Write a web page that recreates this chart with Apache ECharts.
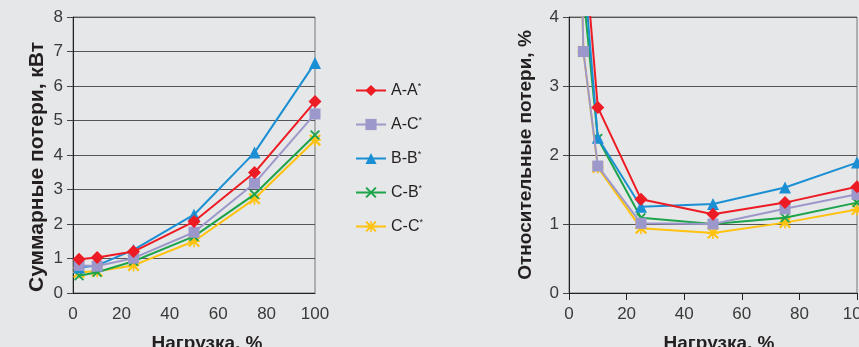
<!DOCTYPE html>
<html>
<head>
<meta charset="utf-8">
<script src="https://cdn.jsdelivr.net/npm/echarts@6/dist/echarts.min.js"></script>
<style>
  html, body { margin: 0; padding: 0; background: #e6e7e8; }
  #chart { width: 859px; height: 347px; }
</style>
</head>
<body>
<div id="chart"></div>
<script>
// load, %
const loadTotal = [2.5, 10, 25, 50, 75, 100]
const loadRel = [2.5, 5, 10, 25, 50, 75, 100]

const names = ['A-A*', 'A-C*', 'B-B*', 'C-B*', 'C-C*']

// total losses, kW
const totalAA = [0.98, 1.03, 1.2, 2.07, 3.49, 5.55]
const totalAC = [0.8, 0.78, 1.01, 1.76, 3.18, 5.19]
const totalBB = [0.74, 0.8, 1.25, 2.27, 4.07, 6.67]
const totalCB = [0.5, 0.6, 0.92, 1.64, 2.86, 4.58]
const totalCC = [0.6, 0.63, 0.8, 1.5, 2.73, 4.43]

// relative losses, % (first points lie above the axis top)
const relAA = [10, 5.2, 2.69, 1.36, 1.14, 1.31, 1.54]
const relAC = [8, 3.5, 1.84, 1.01, 1.0, 1.22, 1.43]
const relBB = [9, 4.75, 2.25, 1.25, 1.29, 1.53, 1.89]
const relCB = [8, 4.34, 2.24, 1.09, 1.0, 1.09, 1.31]
const relCC = [8, 3.5, 1.82, 0.94, 0.87, 1.02, 1.21]

const colors = ['#ed1c24', '#9d98cb', '#1b8fd4', '#1da44b', '#ffc20e']
const crossPath = 'path://M0,1.3L1.3,0L10,8.7L8.7,10ZM8.7,0L10,1.3L1.3,10L0,8.7Z'
const starPath = 'path://M4.35,0L5.65,0L5.65,10L4.35,10ZM0,4.35L10,4.35L10,5.65L0,5.65ZM0,1.3L1.3,0L10,8.7L8.7,10ZM8.7,0L10,1.3L1.3,10L0,8.7Z'
const symbols = ['diamond', 'rect', 'triangle', crossPath, starPath]
const sizes = [13, 11, 12, 10, 12]

const pairs = (xs, ys) => xs.map((x, i) => [x, ys[i]])
const totals = [totalAA, totalAC, totalBB, totalCB, totalCC]
const rels = [relAA, relAC, relBB, relCB, relCC]

const txt = '#3a3a3a'
const axisFont = 'Liberation Sans, Arial, sans-serif'

const makeX = (idx, ticks, shift) => ({
  type: 'value', gridIndex: idx, min: 0, max: 100, interval: 20,
  axisLine: {show: true, onZero: false, lineStyle: {color: '#222', width: 1}},
  axisTick: {show: ticks, length: 7, inside: false, lineStyle: {color: '#222'}},
  axisLabel: {color: txt, fontSize: 17, fontFamily: axisFont, margin: 13},
  splitLine: {show: false},
  name: 'Нагрузка, %', nameLocation: 'middle', nameGap: 41,
  nameTextStyle: {color: '#231f20', fontSize: 19, fontWeight: 'bold', fontFamily: axisFont, padding: [0, 0, 0, shift]}
})

const makeY = (idx, max, title, gap, size, shift) => ({
  type: 'value', gridIndex: idx, min: 0, max: max, interval: 1,
  axisLine: {show: true, lineStyle: {color: '#222', width: 1}},
  axisTick: {show: true, length: 6, lineStyle: {color: '#444'}},
  axisLabel: {color: txt, fontSize: 17, fontFamily: axisFont, margin: 10},
  splitLine: {show: true, lineStyle: {color: '#555', width: 1}},
  name: title, nameLocation: 'middle', nameGap: gap,
  nameTextStyle: {color: '#231f20', fontSize: size, fontWeight: 'bold', fontFamily: axisFont, padding: [0, shift, 0, 0]}
})

const series = []
names.forEach((n, i) => {
  const base = {
    name: n, type: 'line', symbol: symbols[i], symbolSize: sizes[i],
    color: colors[i], lineStyle: {width: 2, color: colors[i]},
    itemStyle: {color: colors[i]}, animation: false, z: 10 - i
  }
  series.push(Object.assign({}, base, {xAxisIndex: 0, yAxisIndex: 0, data: pairs(loadTotal, totals[i])}))
  series.push(Object.assign({}, base, {xAxisIndex: 1, yAxisIndex: 1, data: pairs(loadRel, rels[i]), clip: true}))
})

const chart = echarts.init(document.getElementById('chart'))
chart.setOption({
  backgroundColor: '#e6e7e8',
  animation: false,
  grid: [
    {left: 73, top: 17, width: 242, height: 276, show: true, borderColor: '#777', borderWidth: 1,
      backgroundColor: 'transparent', outerBoundsMode: 'none', containLabel: false},
    {left: 569, top: 17, width: 288, height: 276, show: true, borderColor: '#777', borderWidth: 1,
      backgroundColor: 'transparent', outerBoundsMode: 'none', containLabel: false}
  ],
  legend: {
    data: names, orient: 'vertical', left: 350, top: 77,
    itemWidth: 30, itemHeight: 14, itemGap: 17.5,
    textStyle: {
      color: '#231f20', fontSize: 16, fontFamily: axisFont,
      rich: {s: {fontSize: 9, verticalAlign: 'top', padding: [0, 0, 8, 0], color: '#231f20'}}
    },
    formatter: n => n.replace('*', '{s|*}')
  },
  xAxis: [makeX(0, false, 26), makeX(1, true, 12)],
  yAxis: [
    makeY(0, 8, 'Суммарные потери, кВт', 25, 21, 24),
    makeY(1, 4, 'Относительные потери, %', 34, 19, 0)
  ],
  series: series
})
</script>
</body>
</html>
